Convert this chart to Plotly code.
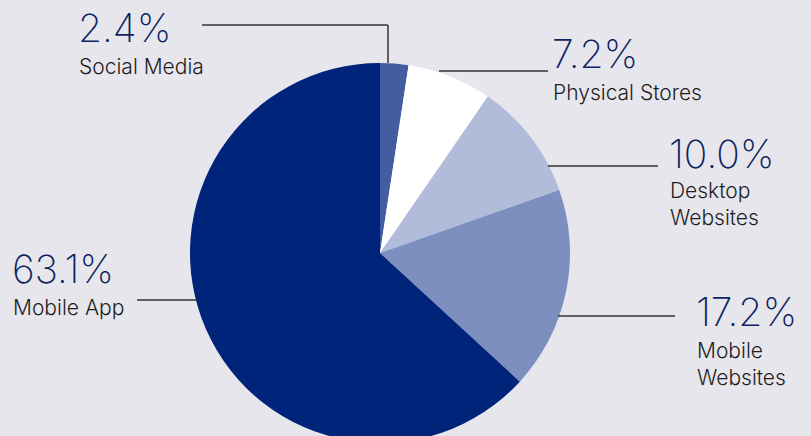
import plotly.graph_objects as go

# Share of orders by channel
channels = ["Social Media", "Physical Stores", "Desktop Websites", "Mobile Websites", "Mobile App"]
shares = [2.4, 7.2, 10.0, 17.2, 63.1]
label_lines = ["Social Media", "Physical Stores", "Desktop<br>Websites", "Mobile<br>Websites", "Mobile App"]
slice_colors = ["#445ca0", "#ffffff", "#b1bcdb", "#7c8fbf", "#00247a"]

W, H = 811, 443
BG = "#e7e6ec"


def px(x, y):
    """Pixel position (from top-left) to paper coordinates."""
    return x / W, 1 - y / H


fig = go.Figure(
    go.Pie(
        labels=channels,
        values=shares,
        sort=False,
        direction="clockwise",
        rotation=0,
        marker=dict(colors=slice_colors, line=dict(width=0)),
        textinfo="none",
        hoverinfo="none",
        showlegend=False,
        domain=dict(x=[0, 760 / W], y=[0, (H - 63) / H]),
    )
)

# label anchor points: (left x, value-text middle y, label-text top y)
label_pos = [
    (79, 28, 52),
    (553, 53, 78),
    (670, 153, 176),
    (697, 311, 336),
    (13, 268, 293),
]

# leader lines as pixel polylines
leaders = [
    [(202, 25), (388, 25), (388, 63)],
    [(439, 71), (548, 71)],
    [(548, 166), (658, 166)],
    [(558, 316), (675, 316)],
    [(137, 300), (197, 300)],
]

for (lx, vy, ty), share, name in zip(label_pos, shares, label_lines):
    x0, y0 = px(lx - 3, vy)
    fig.add_annotation(
        x=x0, y=y0, xref="paper", yref="paper", xanchor="left", yanchor="middle",
        text=f"{share:.1f}%", showarrow=False,
        font=dict(family="Inter", size=39, color="#0c2461", weight=250),
    )
    x1, y1 = px(lx - 2, ty)
    fig.add_annotation(
        x=x1, y=y1, xref="paper", yref="paper", xanchor="left", yanchor="top",
        text=name, showarrow=False, align="left",
        font=dict(family="Inter", size=21, color="#1e1e1e", weight=300),
    )

for pts in leaders:
    for (xa, ya), (xb, yb) in zip(pts[:-1], pts[1:]):
        ax, ay = px(xa, ya)
        bx, by = px(xb, yb)
        fig.add_shape(
            type="line", xref="paper", yref="paper",
            x0=ax, y0=ay, x1=bx, y1=by,
            line=dict(color="#333333", width=1.5),
        )

fig.update_layout(
    width=W,
    height=H,
    margin=dict(l=0, r=0, t=0, b=0),
    paper_bgcolor=BG,
    plot_bgcolor=BG,
    font=dict(family="Inter"),
)

fig.write_html("out.html", config={"displayModeBar": False})
